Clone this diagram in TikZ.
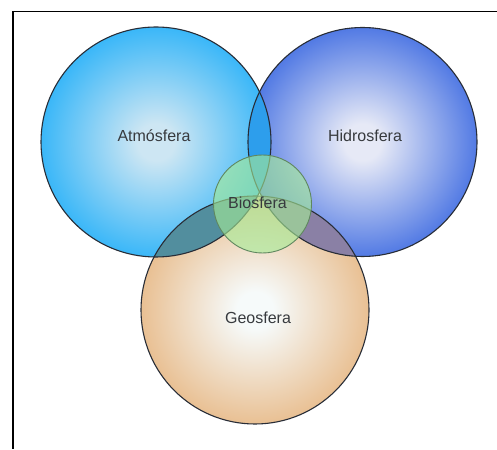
\documentclass[tikz,border=0pt]{standalone}
\usepackage{fontspec}
\setmainfont{Liberation Sans}
\definecolor{atmout}{RGB}{58,183,248}
\definecolor{atmin}{RGB}{205,230,243}
\definecolor{hidout}{RGB}{82,122,228}
\definecolor{hidin}{RGB}{230,233,246}
\definecolor{geoout}{RGB}{233,192,147}
\definecolor{geoin}{RGB}{246,250,250}
\definecolor{ahcol}{RGB}{45,158,236}
\definecolor{agcol}{RGB}{82,142,158}
\definecolor{hgcol}{RGB}{138,128,165}
\definecolor{biocol}{RGB}{165,235,150}
\definecolor{biobord}{RGB}{95,135,95}
\definecolor{bord}{RGB}{40,45,55}
\definecolor{txt}{RGB}{55,58,62}
\pgfdeclareradialshading{atmshade}{\pgfpoint{0bp}{0bp}}{color(0bp)=(atmin); color(4bp)=(atmin); color(25bp)=(atmout); color(50bp)=(atmout)}
\pgfdeclareradialshading{hidshade}{\pgfpoint{0bp}{0bp}}{color(0bp)=(hidin); color(4bp)=(hidin); color(25bp)=(hidout); color(50bp)=(hidout)}
\pgfdeclareradialshading{geoshade}{\pgfpoint{0bp}{0bp}}{color(0bp)=(geoin); color(4bp)=(geoin); color(25bp)=(geoout); color(50bp)=(geoout)}
\tikzset{
  sphere/.style={draw=bord, line width=1.1pt},
  lbl/.style={text=txt, font=\fontsize{16}{18}\selectfont, inner sep=0pt},
}
\begin{document}
\begin{tikzpicture}[x=1pt,y=1pt]
\useasboundingbox (0,0) rectangle (497,449);
\fill[white] (0,0) rectangle (497,449);
% frame
\coordinate (ftl) at (13,437.5);
\coordinate (ftr) at (497,437.5);
\coordinate (fbl) at (13,0);
\draw[line width=1.6pt, black] (ftr) -- (ftl) -- (fbl);
% centres
\coordinate (A) at (156,307);
\coordinate (H) at (362.5,307);
\coordinate (G) at (255,139);
\coordinate (B) at (262.5,245);
% shaded spheres
\shade[shading=atmshade] (A) circle (115pt);
\shade[shading=hidshade] (H) circle (114.5pt);
\shade[shading=geoshade] (G) circle (114pt);
% overlaps
\begin{scope}
  \clip (A) circle (115pt);
  \fill[agcol] (G) circle (114pt);
\end{scope}
\begin{scope}
  \clip (H) circle (114.5pt);
  \fill[hgcol] (G) circle (114pt);
\end{scope}
\begin{scope}
  \clip (A) circle (115pt);
  \fill[ahcol] (H) circle (114.5pt);
\end{scope}
% borders
\draw[sphere] (A) circle (115pt);
\draw[sphere] (H) circle (114.5pt);
\draw[sphere] (G) circle (114pt);
% biosphere
\fill[biocol, fill opacity=0.62] (B) circle (49pt);
\draw[biobord, line width=0.9pt] (B) circle (49pt);
% labels
\node[lbl] (tA) at (154,313) {Atmósfera};
\node[lbl] (tH) at (365,313) {Hidrosfera};
\node[lbl] (tB) at (257.5,246) {Biosfera};
\node[lbl] (tG) at (258,131) {Geosfera};
\end{tikzpicture}
\end{document}
